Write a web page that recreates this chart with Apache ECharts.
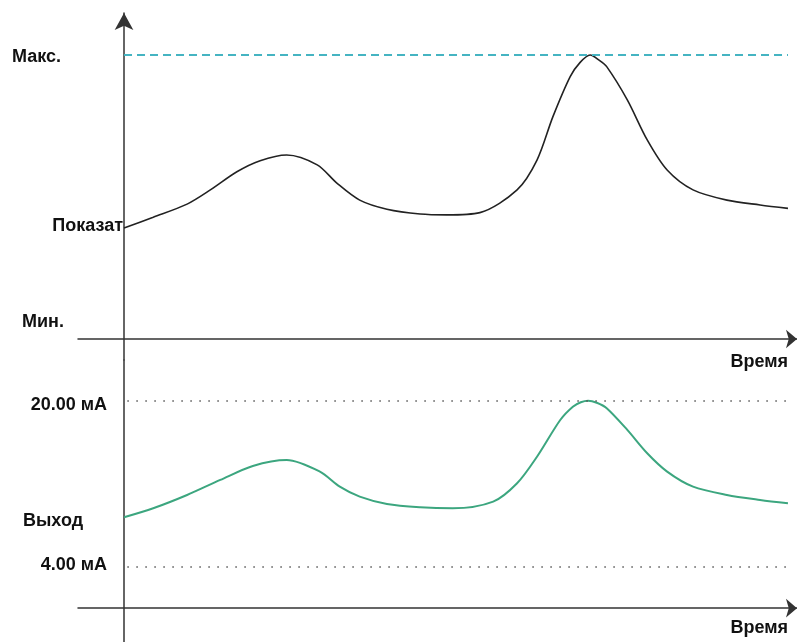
<!DOCTYPE html>
<html>
<head>
<meta charset="utf-8">
<script src="https://cdn.jsdelivr.net/npm/echarts@6/dist/echarts.min.js"></script>
<style>
html,body{margin:0;padding:0;background:#fff}
#chart{width:797px;height:642px}
</style>
</head>
<body>
<div id="chart"></div>
<script>
// время, усл. единицы 0..100
const timeTop = [0, 4.4, 9.5, 13, 17, 20.5, 24.5, 29.1, 32.1, 35.5, 39.6, 44.6, 48.6, 53.6, 59.2, 62.2, 64.6, 67.2, 68.7, 70.2, 71.6, 72.7, 75.8, 78.8, 81.8, 85.7, 90.8, 95.8, 100]
// показания датчика, % шкалы (Мин. = 0, Макс. = 100)
const readingTop = [39.1, 42.9, 47.5, 52.5, 58.9, 62.8, 64.8, 61.3, 54.8, 48.9, 45.7, 44.0, 43.7, 44.5, 52.5, 63.0, 78.3, 92.4, 97.4, 100, 98.1, 95.9, 84.2, 70.1, 59.5, 52.5, 48.9, 47.2, 46.0]

const timeOut = [0, 4.4, 9.5, 14.5, 19.4, 24.5, 29.5, 32.5, 35.5, 39.6, 44.6, 49.5, 55.6, 59.2, 62.2, 65.7, 67.6, 68.8, 69.9, 71.2, 72.7, 75.8, 78.8, 81.8, 85.7, 90.8, 95.8, 100]
// токовый выход, мА
const outputMA = [8.76, 9.63, 10.91, 12.36, 13.71, 14.28, 13.16, 11.71, 10.75, 10.04, 9.73, 9.63, 10.27, 12.04, 14.60, 18.14, 19.42, 19.85, 20.0, 19.8, 19.27, 17.18, 14.93, 13.16, 11.71, 10.91, 10.43, 10.11]

const maxReading = 100
const lowMA = 4, highMA = 20

let myChart = echarts.init(document.getElementById('chart'))

const axisColor = '#333'
const labelFont = {fontSize: 18, fontWeight: 'bold', fontFamily: '"Liberation Sans", Arial, sans-serif', fill: '#111'}

function hiddenBits(){
  return {axisTick:{show:false}, axisLabel:{show:false}, splitLine:{show:false}}
}

myChart.setOption({
  animation: false,
  grid: [
    {left: 78, top: 13, width: 719, height: 347, outerBoundsMode: 'none'},
    {left: 78, top: 360, width: 719, height: 282, outerBoundsMode: 'none'}
  ],
  xAxis: [
    {
      gridIndex: 0, type: 'value', min: -6.93, max: 101.36,
      axisLine: {onZero: true, symbol: ['none', 'arrow'], symbolSize: [14, 11], lineStyle: {color: axisColor, width: 1.5}},
      ...hiddenBits()
    },
    {
      gridIndex: 1, type: 'value', min: -6.93, max: 101.36,
      axisLine: {onZero: true, symbol: ['none', 'arrow'], symbolSize: [14, 11], lineStyle: {color: axisColor, width: 1.5}},
      ...hiddenBits()
    }
  ],
  yAxis: [
    {
      gridIndex: 0, type: 'value', min: -7.39, max: 114.79,
      axisLine: {onZero: true, symbol: ['none', 'arrow'], symbolSize: [14, 17], lineStyle: {color: axisColor, width: 1.5}},
      ...hiddenBits()
    },
    {
      gridIndex: 1, type: 'value', min: -3.26, max: 23.92,
      axisLine: {onZero: true, lineStyle: {color: axisColor, width: 1.5}},
      ...hiddenBits()
    }
  ],
  series: [
    {
      name: 'Показатель',
      type: 'line',
      xAxisIndex: 0, yAxisIndex: 0,
      data: timeTop.map((t, i) => [t, readingTop[i]]),
      smooth: 0.3,
      showSymbol: false,
      lineStyle: {color: '#222', width: 1.6},
      markLine: {
        silent: true, symbol: 'none', label: {show: false},
        lineStyle: {color: '#45b4c2', type: [8, 5], width: 2},
        data: [[{coord: [0, maxReading]}, {coord: [100, maxReading]}]]
      }
    },
    {
      name: 'Выход',
      type: 'line',
      xAxisIndex: 1, yAxisIndex: 1,
      data: timeOut.map((t, i) => [t, outputMA[i]]),
      smooth: 0.3,
      showSymbol: false,
      lineStyle: {color: '#3ca67f', width: 2},
      markLine: {
        silent: true, symbol: 'none', label: {show: false},
        lineStyle: {color: '#555', type: [1.5, 7.5], width: 1.5},
        data: [
          [{coord: [0.5, highMA]}, {coord: [100, highMA]}],
          [{coord: [0.5, lowMA]}, {coord: [100, lowMA]}]
        ]
      }
    }
  ],
  graphic: [
    {type: 'text', x: 12, y: 57, style: {...labelFont, text: 'Макс.', align: 'left', verticalAlign: 'middle'}},
    {type: 'text', x: 123, y: 226, style: {...labelFont, text: 'Показат', align: 'right', verticalAlign: 'middle'}},
    {type: 'text', x: 22, y: 322, style: {...labelFont, text: 'Мин.', align: 'left', verticalAlign: 'middle'}},
    {type: 'text', x: 788, y: 362, style: {...labelFont, text: 'Время', align: 'right', verticalAlign: 'middle'}},
    {type: 'text', x: 107, y: 405, style: {...labelFont, text: '20.00 мА', align: 'right', verticalAlign: 'middle'}},
    {type: 'text', x: 23, y: 521, style: {...labelFont, text: 'Выход', align: 'left', verticalAlign: 'middle'}},
    {type: 'text', x: 107, y: 565, style: {...labelFont, text: '4.00 мА', align: 'right', verticalAlign: 'middle'}},
    {type: 'text', x: 788, y: 628, style: {...labelFont, text: 'Время', align: 'right', verticalAlign: 'middle'}}
  ]
})
</script>
</body>
</html>
